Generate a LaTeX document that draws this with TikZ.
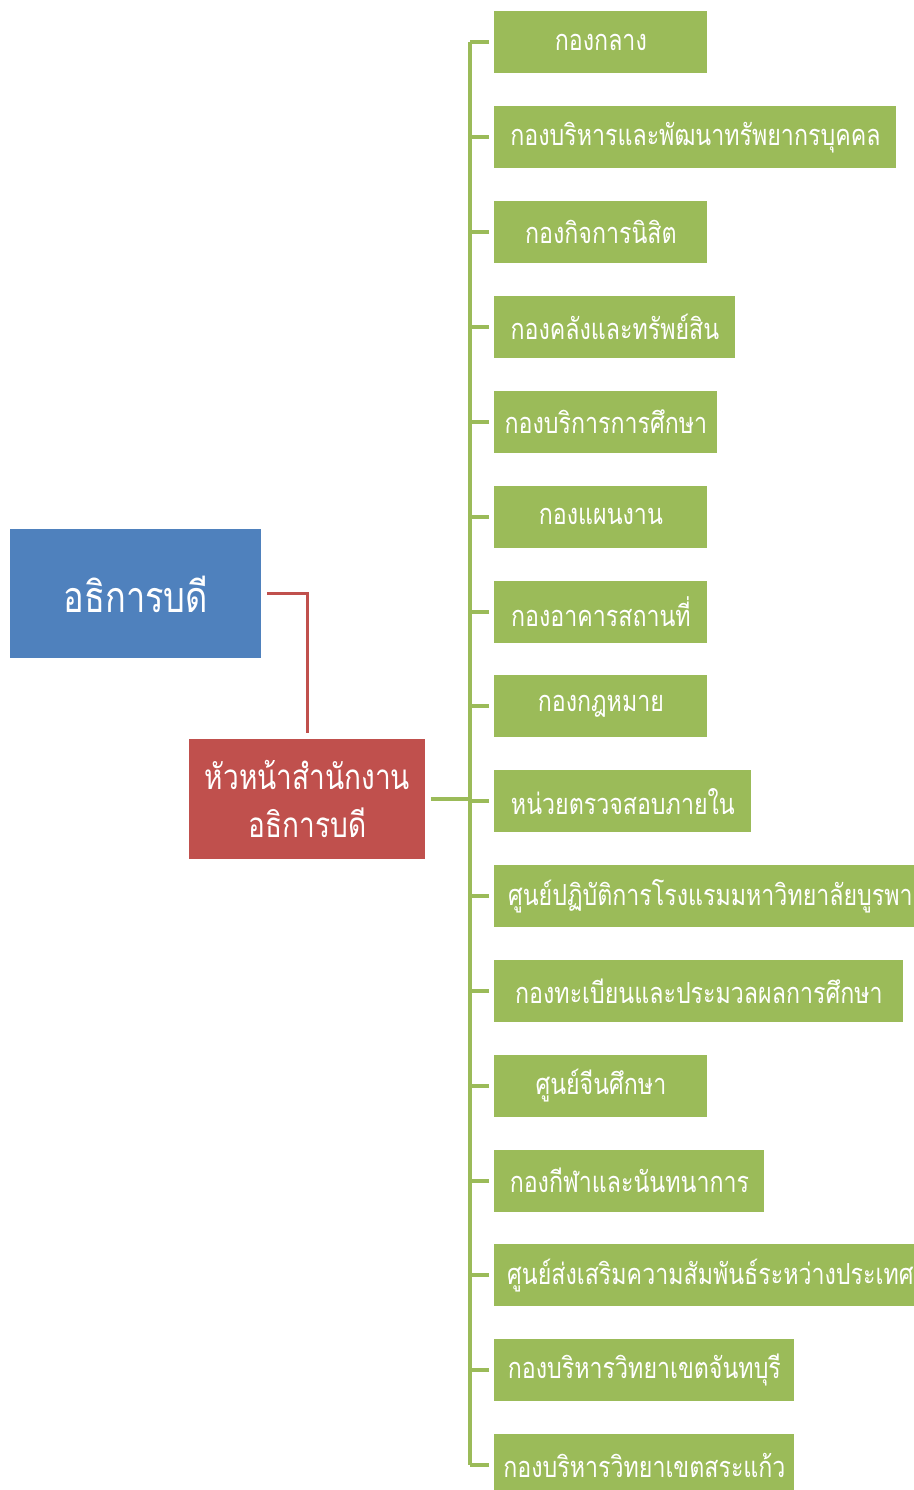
\documentclass[tikz,border=0pt]{standalone}
\usepackage{fontspec}
\newfontfamily\thaifont[Script=Thai,FakeStretch=0.8]{Loma}
\definecolor{cblue}{HTML}{4F81BD}
\definecolor{cred}{HTML}{C0504D}
\definecolor{cgreen}{HTML}{9BBB59}
\tikzset{
  gbox/.style={fill=cgreen, draw=none, anchor=north west, minimum height=31pt, inner sep=0pt,
    text=white, font=\thaifont\fontsize{14.5}{16}\selectfont},
  gline/.style={draw=cgreen, line width=2pt},
  rline/.style={draw=cred, line width=1.5pt},
}
\begin{document}
\begin{tikzpicture}[x=0.5pt,y=-0.5pt]
\useasboundingbox (0,0) rectangle (914,1490);
\clip (0,0) rectangle (914,1490);
% top boxes
\node[fill=cblue, anchor=north west, minimum width=125.5pt, minimum height=64.5pt, inner sep=0pt,
  text=white, font=\thaifont\fontsize{21.5}{24}\selectfont] (ceo) at (10,529) {อธิการบดี};
\node[fill=cred, anchor=north west, minimum width=118pt, minimum height=60pt, inner sep=0pt,
  text=white, align=center, font=\thaifont\fontsize{17.5}{24}\selectfont] (head) at (189,739) {หัวหน้าสำนักงาน\\อธิการบดี};
% green boxes
\foreach \i/\w/\t in {
 0/213/กองกลาง,
 1/402/กองบริหารและพัฒนาทรัพยากรบุคคล,
 2/213/กองกิจการนิสิต,
 3/241/กองคลังและทรัพย์สิน,
 4/223/กองบริการการศึกษา,
 5/213/กองแผนงาน,
 6/213/กองอาคารสถานที่,
 7/213/กองกฎหมาย,
 8/257/หน่วยตรวจสอบภายใน,
 9/432/ศูนย์ปฏิบัติการโรงแรมมหาวิทยาลัยบูรพา,
 10/409/กองทะเบียนและประมวลผลการศึกษา,
 11/213/ศูนย์จีนศึกษา,
 12/270/กองกีฬาและนันทนาการ,
 13/432/ศูนย์ส่งเสริมความสัมพันธ์ระหว่างประเทศ,
 14/300/กองบริหารวิทยาเขตจันทบุรี,
 15/300/กองบริหารวิทยาเขตสระแก้ว}
{
  \node[gbox, minimum width=\w*0.5pt] (g\i) at (494,{11+94.85*\i}) {\t};
  \draw[gline] (g\i.west) ++(-5,0) coordinate (e\i) -- ++(-19,0) coordinate (t\i);
}
\draw[gline] (t0) -- (t15);
\coordinate (hj) at (t0 |- head.east);
\draw[gline] ([xshift=2.5pt]head.east) -- (hj);
% red connector
\draw[rline] ([xshift=2.5pt]ceo.east) -| ([yshift=3pt]head.north);
\end{tikzpicture}
\end{document}
